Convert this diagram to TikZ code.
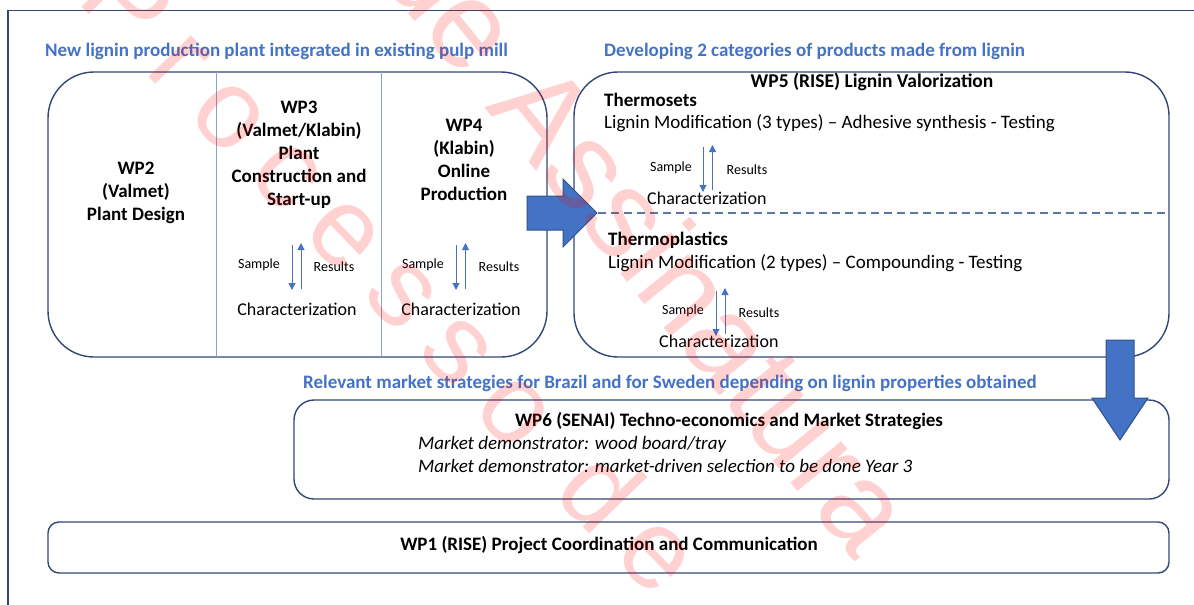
\documentclass[tikz,border=0pt]{standalone}
\usepackage{fontspec}
\setmainfont{Carlito}
\newfontfamily\wmfont{Liberation Sans}
\newfontfamily\wmfontwide[LetterSpace=21]{Liberation Sans}
\usetikzlibrary{arrows.meta}

\definecolor{boxline}{RGB}{52,70,118}
\definecolor{divline}{RGB}{140,160,205}
\definecolor{dashline}{RGB}{95,115,172}
\definecolor{headblue}{RGB}{68,114,196}
\definecolor{arrowedge}{RGB}{47,82,143}

\tikzset{
  wpbox/.style={draw=boxline, line width=1.4pt, inner sep=0, minimum width=#1},
  divider/.style={draw=divline, line width=0.9pt},
  hdr/.style={text=headblue, font=\bfseries\fontsize{19}{22}\selectfont, anchor=west, inner sep=0},
  wptxt/.style={font=\bfseries\fontsize{19}{23}\selectfont, align=center, inner sep=0},
  smalltxt/.style={font=\fontsize{14}{16}\selectfont, inner sep=0},
  body/.style={font=\fontsize{18}{22}\selectfont, inner sep=0},
  bodywide/.style={font=\fontsize{19}{22}\selectfont, inner sep=0},
  bodybf/.style={font=\bfseries\fontsize{19}{22}\selectfont, inner sep=0},
  bodyit/.style={font=\itshape\fontsize{19}{22}\selectfont, inner sep=0, anchor=west},
  flow/.style={draw=headblue, line width=1pt, -{Triangle[length=7pt,width=7pt]}},
  blockarrow/.style={fill=headblue, draw=arrowedge, line width=1pt},
  stamp/.style={text=red, text opacity=0.18, inner sep=0}
}

\begin{document}
\begin{tikzpicture}[x=1pt, y=-1pt]
\useasboundingbox (0,0) rectangle (1194,605);

% page frame, running off the right and bottom edges
\begin{scope}
  \clip (0,0) rectangle (1194,605);
  \draw[boxline, line width=1.5pt] (8,10.5) rectangle (1220,640);
\end{scope}

% section headings
\node[hdr] (h1) at (45,51) {New lignin production plant integrated in existing pulp mill};
\node[hdr] (h2) at (604,51) {Developing 2 categories of products made from lignin};
\node[hdr] (h3) at (303,383) {Relevant market strategies for Brazil and for Sweden depending on lignin properties obtained};

% plant box with three work packages
\node[wpbox=499pt, minimum height=285pt, rounded corners=46pt] (plant) at (297.5,214.5) {};
\draw[divider] (216,72) -- (216,357);
\draw[divider] (381.5,72) -- (381.5,357);

\node[wptxt] (wp2) at (136,193) {WP2\\(Valmet)\\Plant Design};
\node[wptxt] (wp3) at (299,155) {WP3\\(Valmet/Klabin)\\Plant\\Construction and\\Start-up};
\node[wptxt] (wp4) at (464,160) {WP4\\(Klabin)\\Online\\Production};

% sample / results loops in WP3 and WP4
\node[smalltxt] (s3) at (259,265) {Sample};
\node[smalltxt] (r3) at (334,267) {Results};
\node[body] (c3) at (297,309) {Characterization};
\coordinate (s3top) at (292,245);  \coordinate (s3bot) at (292,290);
\coordinate (r3bot) at (301,289);  \coordinate (r3top) at (301,243);
\draw[flow] (s3top) -- (s3bot);
\draw[flow] (r3bot) -- (r3top);

\node[smalltxt] (s4) at (423,265) {Sample};
\node[smalltxt] (r4) at (499,267) {Results};
\node[body] (c4) at (461,309) {Characterization};
\coordinate (s4top) at (456,245);  \coordinate (s4bot) at (456,290);
\coordinate (r4bot) at (465.5,289); \coordinate (r4top) at (465.5,243);
\draw[flow] (s4top) -- (s4bot);
\draw[flow] (r4bot) -- (r4top);

% lignin valorization box
\node[wpbox=595pt, minimum height=285pt, rounded corners=44pt] (valor) at (871.5,214.5) {};
\node[bodybf, font=\bfseries\fontsize{19.5}{22}\selectfont] (wp5) at (872,82) {WP5 (RISE) Lignin Valorization};
\node[bodybf, anchor=west] (tset) at (604,100) {Thermosets};
\node[bodywide, anchor=west] (tsetsteps) at (604,123) {Lignin Modification (3 types) -- Adhesive synthesis - Testing};
\node[smalltxt] (s5) at (671,168) {Sample};
\node[smalltxt] (r5) at (747,170) {Results};
\node[body, anchor=west] (c5) at (647,198) {Characterization};
\coordinate (s5top) at (703,147);  \coordinate (s5bot) at (703,192);
\coordinate (r5bot) at (712.5,190); \coordinate (r5top) at (712.5,145);
\draw[flow] (s5top) -- (s5bot);
\draw[flow] (r5bot) -- (r5top);

\coordinate (splitL) at (598,213);
\coordinate (splitR) at (1169,213);
\draw[dashline, line width=1.1pt, dash pattern=on 8pt off 5pt] (splitL) -- (splitR);

\node[bodybf, anchor=west] (tplast) at (608,240) {Thermoplastics};
\node[bodywide, anchor=west] (tplaststeps) at (608,263) {Lignin Modification (2 types) -- Compounding - Testing};
\node[smalltxt] (s6) at (683,311) {Sample};
\node[smalltxt] (r6) at (759,313) {Results};
\node[body, anchor=west] (c6) at (659,341) {Characterization};
\coordinate (s6top) at (716,291);  \coordinate (s6bot) at (716,336);
\coordinate (r6bot) at (725,334);  \coordinate (r6top) at (725,288);
\draw[flow] (s6top) -- (s6bot);
\draw[flow] (r6bot) -- (r6top);

% market strategies box
\node[wpbox=875pt, minimum height=99pt, rounded corners=20pt] (market) at (731.5,449.5) {};
\node[bodybf] (wp6) at (729,421) {WP6 (SENAI) Techno-economics and Market Strategies};
\node[bodyit] (demo1) at (418,444) {Market demonstrator: wood board/tray};
\node[bodyit] (demo2) at (418,466) {Market demonstrator: market-driven selection to be done Year 3};

% coordination box
\node[wpbox=1121pt, minimum height=51pt, rounded corners=11pt] (coord) at (608.5,547.5) {};
\node[bodybf] (wp1) at (609,545) {WP1 (RISE) Project Coordination and Communication};

% block arrows between the stages
\draw[blockarrow] (527,196) -- (563,196) -- (563,179) -- (597,213) -- (563,247) -- (563,230) -- (527,230) -- cycle;
\draw[blockarrow] (1106,340) -- (1134,340) -- (1134,398) -- (1148,398) -- (1120,440) -- (1092,398) -- (1106,398) -- cycle;

% diagonal stamp over the page
\begin{scope}
  \clip (0,0) rectangle (1194,605);
  \node[stamp, rotate=-50.8, font=\wmfont\fontsize{124}{124}\selectfont] (stampA) at (650,240) {de Assinatura};
  \node[stamp, rotate=-46, font=\wmfontwide\fontsize{112}{112}\selectfont] (stampB) at (394,273) {Processo de};
\end{scope}
\end{tikzpicture}
\end{document}
